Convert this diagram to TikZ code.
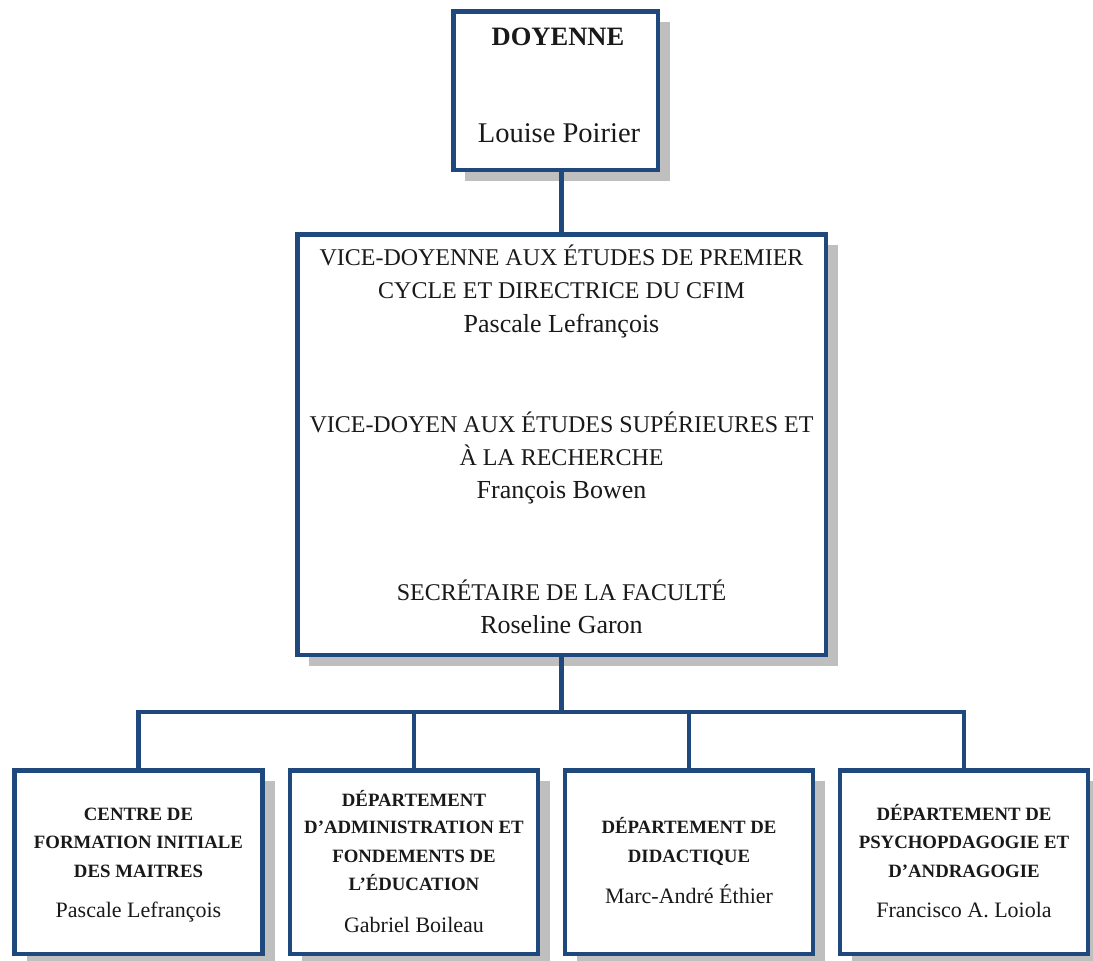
\documentclass[tikz,border=0pt]{standalone}
\usepackage{fontspec}
\setmainfont{Liberation Serif}
\usetikzlibrary{shadows}
\definecolor{boxblue}{RGB}{31,73,125}
\definecolor{shadowgray}{RGB}{191,191,191}
\definecolor{txtcol}{RGB}{25,25,25}
\begin{document}
\begin{tikzpicture}[x=1pt,y=-1pt,
  orgbox/.style={draw=boxblue, line width=4.5pt, fill=white, inner sep=0pt,
    general shadow={fill=shadowgray, shadow xshift=12pt, shadow yshift=-11pt}},
  bottombox/.style={orgbox, minimum width=248pt, minimum height=183.5pt},
  link/.style={draw=boxblue, line width=4.5pt},
  reg/.style={anchor=base, inner sep=0pt, text=txtcol, font=\fontsize{#1pt}{#1pt}\selectfont},
  bld/.style={anchor=base, inner sep=0pt, text=txtcol, font=\fontsize{#1pt}{#1pt}\selectfont\bfseries}]
\useasboundingbox (0,0) rectangle (1093,961);

% boxes
\node[orgbox, minimum width=204.5pt, minimum height=158.5pt] (doy) at (555.5,90.5) {};
\node[orgbox, minimum width=528.5pt, minimum height=420.5pt] (mid) at (561.5,444.5) {};
\node[bottombox] (b1) at (138.5,862) {};
\node[bottombox] (b2) at (414,862) {};
\node[bottombox] (b3) at (689,862) {};
\node[bottombox] (b4) at (964,862) {};

% connectors
\coordinate (bus) at (561.5,712);
\draw[link] (doy.south -| mid.north) -- (mid.north);
\draw[link] (mid.south) -- (bus);
\draw[link] (b1.north) -- (b1.north |- bus) -- (b4.north |- bus) -- (b4.north);
\draw[link] (b2.north) -- (b2.north |- bus);
\draw[link] (b3.north) -- (b3.north |- bus);

% doyenne text
\node[bld=26.5] (doyT) at (558,45.5) {DOYENNE};
\node[reg=28.5] (doyN) at (559,142) {Louise Poirier};

% middle text
\node[reg=24] (m1) at (561.5,265) {VICE-DOYENNE AUX ÉTUDES DE PREMIER};
\node[reg=24] (m2) at (561.5,298) {CYCLE ET DIRECTRICE DU CFIM};
\node[reg=26] (m3) at (561.5,332) {Pascale Lefrançois};
\node[reg=24] (m4) at (561.5,432) {VICE-DOYEN AUX ÉTUDES SUPÉRIEURES ET};
\node[reg=24] (m5) at (561.5,465) {À LA RECHERCHE};
\node[reg=26] (m6) at (561.5,498) {François Bowen};
\node[reg=24] (m7) at (561.5,600) {SECRÉTAIRE DE LA FACULTÉ};
\node[reg=26] (m8) at (561.5,633) {Roseline Garon};

% bottom box 1
\node[bld=18.8] (t1a) at (138.5,820) {CENTRE DE};
\node[bld=18.8] (t1b) at (138.5,848) {FORMATION INITIALE};
\node[bld=18.8] (t1c) at (138.5,877) {DES MAITRES};
\node[reg=22] (t1n) at (138.5,917) {Pascale Lefrançois};

% bottom box 2
\node[bld=18.8] (t2a) at (414,806) {DÉPARTEMENT};
\node[bld=18.8] (t2b) at (414,833) {D’ADMINISTRATION ET};
\node[bld=18.8] (t2c) at (414,862) {FONDEMENTS DE};
\node[bld=18.8] (t2d) at (414,890) {L’ÉDUCATION};
\node[reg=22] (t2n) at (414,932) {Gabriel Boileau};

% bottom box 3
\node[bld=18.8] (t3a) at (689,833) {DÉPARTEMENT DE};
\node[bld=18.8] (t3b) at (689,862) {DIDACTIQUE};
\node[reg=22] (t3n) at (689,903) {Marc-André Éthier};

% bottom box 4
\node[bld=18.8] (t4a) at (964,820) {DÉPARTEMENT DE};
\node[bld=18.8] (t4b) at (964,848) {PSYCHOPDAGOGIE ET};
\node[bld=18.8] (t4c) at (964,877) {D’ANDRAGOGIE};
\node[reg=22] (t4n) at (964,917) {Francisco A. Loiola};
\end{tikzpicture}
\end{document}
